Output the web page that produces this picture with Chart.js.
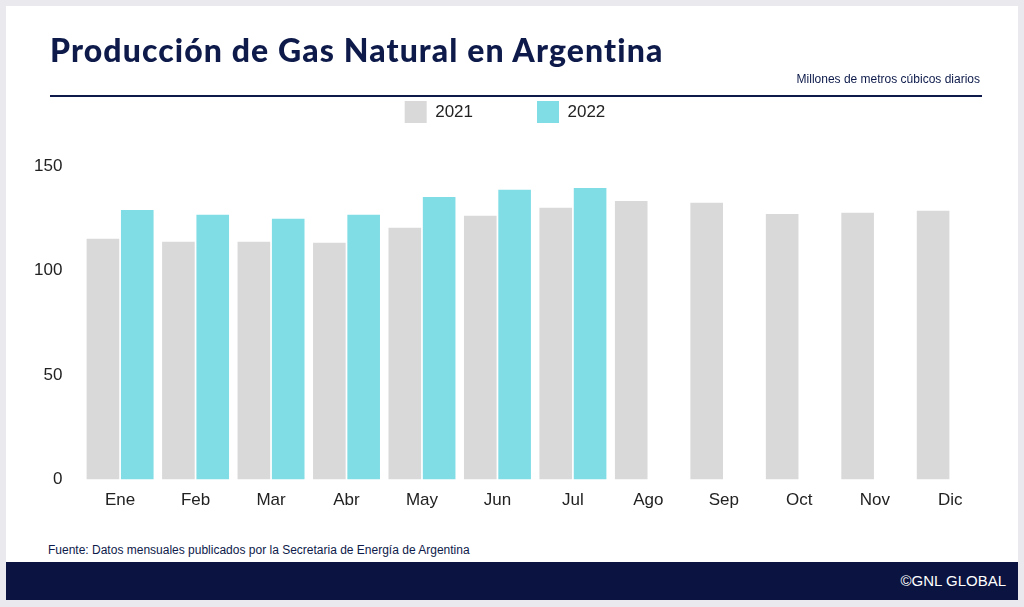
<!DOCTYPE html>
<html><head><meta charset="utf-8">
<script src="https://cdn.jsdelivr.net/npm/chart.js@4"></script>
<style>
html,body{margin:0;padding:0;width:1024px;height:607px;background:#e9e9ee;font-family:"Liberation Sans",Arial,sans-serif;overflow:hidden}
#card{position:absolute;left:6px;top:6px;width:1012px;height:594px;background:#fff}
#title{position:absolute;left:50px;top:30px;font-family:Lato;font-size:32px;font-weight:900;color:#0d1a4a;letter-spacing:1.1px;z-index:2}
#sub{position:absolute;right:44px;top:72px;font-size:12px;color:#0d1a4a;z-index:2}
#rule{position:absolute;left:50px;top:95px;width:932px;height:2px;background:#0d1a4a;z-index:2}
#src{position:absolute;left:48px;top:543px;font-size:12px;color:#0d1a4a}
#foot{position:absolute;left:6px;top:562px;width:1012px;height:38px;background:#0b1340}
#copy{position:absolute;right:12px;top:10px;color:#fff;font-size:15px}
#wrap{position:absolute;left:22px;top:37px;width:966px;height:477px;z-index:1}
</style></head><body>
<div id="card"></div>
<div id="title">Producción de Gas Natural en Argentina</div>
<div id="sub">Millones de metros cúbicos diarios</div>
<div id="rule"></div>
<div id="wrap"><canvas id="c"></canvas></div>
<div id="src">Fuente: Datos mensuales publicados por la Secretaria de Energía de Argentina</div>
<div id="foot"><div id="copy">©GNL GLOBAL</div></div>
<script>
const categories=["Ene","Feb","Mar","Abr","May","Jun","Jul","Ago","Sep","Oct","Nov","Dic"];
const values2021=[115.2,113.8,113.8,113.3,120.5,126.2,130,133.3,132.4,127.1,127.6,128.6];
const values2022=[129,126.7,124.8,126.7,135.2,138.6,139.5,null,null,null,null,null];
const yTicks=[0,50,100,150];
const legendGap={id:'legendGap',beforeInit(chart){const f=chart.legend.fit;chart.legend.fit=function(){f.call(this);this.height+=33;};}};
new Chart(document.getElementById('c'),{
type:'bar',
data:{labels:categories,datasets:[
{label:'2021',data:values2021,backgroundColor:'#d9d9d9'},
{label:'2022',data:values2022,backgroundColor:'#80dde5'}]},
plugins:[legendGap],
options:{responsive:true,maintainAspectRatio:false,animation:false,
datasets:{bar:{categoryPercentage:0.91,barPercentage:0.95}},
plugins:{legend:{labels:{boxWidth:22,boxHeight:22,padding:64,color:'#222',font:{size:17,family:'Liberation Sans'}}},tooltip:{enabled:false}},
scales:{x:{grid:{display:false},border:{display:false},ticks:{color:'#222',font:{size:17,family:'Liberation Sans'}}},
y:{min:0,max:150,afterBuildTicks:a=>{a.ticks=yTicks.map(v=>({value:v}))},grid:{display:false},border:{display:false},ticks:{color:'#222',padding:12,font:{size:17,family:'Liberation Sans'}}}}}
});
</script></body></html>
